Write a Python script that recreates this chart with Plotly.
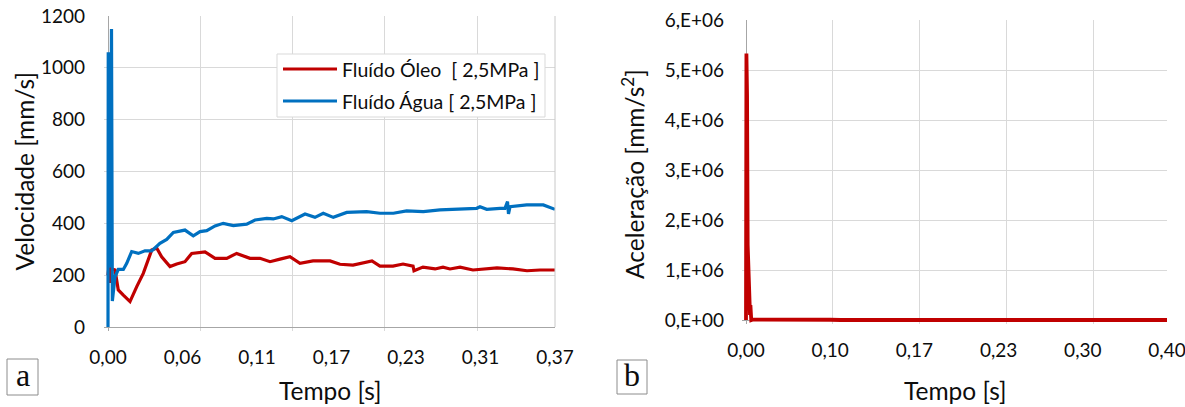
import numpy as np
import plotly.graph_objects as go

W, H = 1185, 407

# ---------------- data: chart a (velocity) ----------------
t_oleo = [0.0000, 0.0007, 0.0017, 0.0025, 0.0058, 0.0085, 0.0127, 0.0182, 0.0238, 0.0292,
          0.0362, 0.0403, 0.0444, 0.0513, 0.0569, 0.0637, 0.0693, 0.0803, 0.0886, 0.0983,
          0.1065, 0.1175, 0.1258, 0.1341, 0.1424, 0.1506, 0.1589, 0.1697, 0.1838, 0.1920,
          0.2028, 0.2185, 0.2251, 0.2359, 0.2442, 0.2525, 0.2533, 0.2607, 0.2707, 0.2773,
          0.2831, 0.2914, 0.3021, 0.3137, 0.3220, 0.3352, 0.3468, 0.3576, 0.3700]
v_oleo = [200, 230, 170, 225, 220, 143, 123, 98, 156, 207,
          297, 305, 271, 233, 243, 252, 284, 290, 265, 265,
          284, 265, 265, 252, 262, 271, 246, 255, 255, 242,
          239, 255, 235, 235, 243, 235, 217, 231, 224, 231,
          224, 231, 220, 224, 228, 224, 217, 220, 220]

t_agua = [0.0000, 0.0002, 0.0012, 0.0021, 0.0029, 0.0036, 0.0058, 0.0085, 0.0127, 0.0155,
          0.0196, 0.0251, 0.0306, 0.0362, 0.0430, 0.0486, 0.0541, 0.0637, 0.0706, 0.0762,
          0.0817, 0.0886, 0.0954, 0.1037, 0.1148, 0.1217, 0.1314, 0.1368, 0.1438, 0.1521,
          0.1631, 0.1713, 0.1782, 0.1865, 0.1976, 0.2141, 0.2251, 0.2362, 0.2472, 0.2610,
          0.2748, 0.2914, 0.3052, 0.3079, 0.3135, 0.3245, 0.3286, 0.3307, 0.3315, 0.3328,
          0.3466, 0.3603, 0.3700]
v_agua = [0, 1060, 820, 230, 1150, 100, 194, 222, 222, 246,
          291, 284, 294, 294, 323, 338, 365, 374, 352, 368,
          372, 390, 400, 391, 397, 413, 419, 417, 426, 410,
          436, 423, 439, 423, 442, 445, 439, 439, 448, 445,
          452, 454, 458, 464, 454, 458, 458, 484, 436, 464,
          471, 471, 454]

xlabels_a = ["0,00", "0,06", "0,11", "0,17", "0,23", "0,31", "0,37"]
yticks_a = [0, 200, 400, 600, 800, 1000, 1200]

# ---------------- data: chart b (acceleration) ----------------
t_acel = [0.0000, 0.0004, 0.0010, 0.0016, 0.0024, 0.0030, 0.0034, 0.0038, 0.0042, 0.0050,
          0.0060, 0.0200, 0.0400, 0.0600, 0.0800, 0.0900, 0.2000, 0.3000, 0.4000]
a_acel = [0, 5.33e6, 4.5e6, 1.5e6, 7.3e5, 4.0e5, 6.0e5, 1.0e5, 3.0e5, 0,
          8.0e3, 1.0e4, 5.0e3, 1.0e4, 5.0e3, 0, 0, 0, 0]

xlabels_b = ["0,00", "0,10", "0,17", "0,23", "0,30", "0,40"]
yticks_b = [0, 1e6, 2e6, 3e6, 4e6, 5e6, 6e6]
ylabels_b = ["0,E+00", "1,E+06", "2,E+06", "3,E+06", "4,E+06", "5,E+06", "6,E+06"]

series_names = ["Fluído Óleo\u00a0 [ 2,5MPa ]", "Fluído Água [ 2,5MPa ]"]
series_colors = ["#C00000", "#0070C0"]

FONT = "Lato"
TXT = "#0d0d0d"
GRID = "#D9D9D9"
AXIS = "#A6A6A6"


def px(x):
    return x / W


def py(y):
    return 1 - y / H


# plot area pixel boxes (axis origin position)
A_L, A_R, A_T, A_B = 108, 555, 16, 327
B_L, B_R, B_T, B_B = 746, 1167, 20, 320
PAD = 4
xmax_a, ymax_a = 0.37, 1200
xmax_b, ymax_b = 0.40, 6e6
kx_a = xmax_a / (A_R - A_L)
ky_a = ymax_a / (A_B - A_T)
kx_b = xmax_b / (B_R - B_L)
ky_b = ymax_b / (B_B - B_T)

fig = go.Figure()
fig.add_trace(go.Scatter(x=t_oleo, y=v_oleo, mode="lines", name=series_names[0],
                         line=dict(color=series_colors[0], width=3.2), showlegend=False,
                         xaxis="x", yaxis="y"))
fig.add_trace(go.Scatter(x=t_agua, y=v_agua, mode="lines", name=series_names[1],
                         line=dict(color=series_colors[1], width=3.2), showlegend=False,
                         xaxis="x", yaxis="y"))
fig.add_trace(go.Scatter(x=t_acel, y=a_acel, mode="lines", name="Aceleração",
                         line=dict(color=series_colors[0], width=3.8), showlegend=False,
                         xaxis="x2", yaxis="y2"))

grid_frac = 0.2064
gx_a = [xmax_a * grid_frac * k for k in range(1, 5)]
gx_b = [xmax_b * grid_frac * k for k in range(1, 5)]
tx_a = list(np.linspace(0, xmax_a, len(xlabels_a)))
tx_b = list(np.linspace(0, xmax_b, len(xlabels_b)))

tickfont = dict(family=FONT, size=19, color=TXT)

common = dict(zeroline=True, zerolinecolor=AXIS, zerolinewidth=1, showline=False,
              ticks="", tickfont=tickfont, automargin=False, fixedrange=True,
              ticklabeloverflow="allow")

fig.update_layout(
    width=W, height=H, margin=dict(l=0, r=0, t=0, b=0, autoexpand=False),
    paper_bgcolor="white", plot_bgcolor="white",
    font=dict(family=FONT, color=TXT),
    xaxis=dict(domain=[px(A_L - PAD), px(A_R)], range=[-PAD * kx_a, xmax_a + 1e-9],
               tickmode="array", tickvals=tx_a, ticktext=xlabels_a, showgrid=False,
               ticklabelstandoff=13,
               minor=dict(tickmode="array", tickvals=gx_a, showgrid=True, gridcolor=GRID, gridwidth=1, ticks=""),
               anchor="y", **common),
    yaxis=dict(domain=[py(A_B + PAD), py(A_T)], range=[-PAD * ky_a, ymax_a + 0.01],
               tickmode="array", tickvals=yticks_a, showgrid=True, gridcolor=GRID, gridwidth=1,
               ticklabelstandoff=18, anchor="x", **common),
    xaxis2=dict(domain=[px(B_L - PAD), px(B_R)], range=[-PAD * kx_b, xmax_b + 1e-9],
                tickmode="array", tickvals=tx_b, ticktext=xlabels_b, showgrid=False,
                ticklabelstandoff=13,
                minor=dict(tickmode="array", tickvals=gx_b, showgrid=True, gridcolor=GRID, gridwidth=1, ticks=""),
                anchor="y2", **common),
    yaxis2=dict(domain=[py(B_B + PAD), py(B_T)], range=[-PAD * ky_b, ymax_b + 1],
                tickmode="array", tickvals=yticks_b, ticktext=ylabels_b, showgrid=True,
                gridcolor=GRID, gridwidth=1,
                ticklabelstandoff=17, anchor="x2", **common),
)

shapes = []
annotations = []

# right border of chart a
shapes.append(dict(type="line", xref="paper", yref="paper", x0=px(A_R), x1=px(A_R),
                   y0=py(A_B), y1=py(A_T), line=dict(color="#C8C8C8", width=1)))

# legend (chart a)
LG_L, LG_R, LG_T, LG_B = 277, 545, 54, 117
shapes.append(dict(type="rect", xref="paper", yref="paper", x0=px(LG_L), x1=px(LG_R),
                   y0=py(LG_B), y1=py(LG_T), line=dict(color="#D9D9D9", width=1),
                   fillcolor="white", layer="above"))
for i, (nm, col) in enumerate(zip(series_names, series_colors)):
    yy = 69 + 32 * i
    shapes.append(dict(type="line", xref="paper", yref="paper", x0=px(283), x1=px(337),
                       y0=py(yy), y1=py(yy), line=dict(color=col, width=3.2), layer="above"))
    annotations.append(dict(text=nm, xref="paper", yref="paper", x=px(340), y=py(yy),
                            xanchor="left", yanchor="middle", showarrow=False,
                            font=dict(family=FONT, size=19.5, color=TXT)))

# axis titles
title_font = dict(family=FONT, size=24.5, color=TXT)
annotations.append(dict(text="Velocidade [mm/s]", xref="paper", yref="paper",
                        x=px(24), y=py((A_T + A_B) / 2), textangle=-90, showarrow=False,
                        xanchor="center", yanchor="middle", font=title_font))
annotations.append(dict(text="Tempo [s]", xref="paper", yref="paper",
                        x=px(330), y=py(390), showarrow=False,
                        xanchor="center", yanchor="middle", font=title_font))
annotations.append(dict(text="Aceleração [mm/s<sup>2</sup>]", xref="paper", yref="paper",
                        x=px(633), y=py(174), textangle=-90, showarrow=False,
                        xanchor="center", yanchor="middle", font=title_font))
annotations.append(dict(text="Tempo [s]", xref="paper", yref="paper",
                        x=px(955), y=py(390), showarrow=False,
                        xanchor="center", yanchor="middle", font=title_font))

# panel letters
for letter, (l, t, r, b) in [("a", (7, 359, 38, 395)), ("b", (617, 360, 647, 394))]:
    shapes.append(dict(type="rect", xref="paper", yref="paper", x0=px(l), x1=px(r),
                       y0=py(b), y1=py(t), line=dict(color="#8C8C8C", width=1)))
    annotations.append(dict(text=letter, xref="paper", yref="paper",
                            x=px((l + r) / 2), y=py((t + b) / 2 - 2), showarrow=False,
                            xanchor="center", yanchor="middle",
                            font=dict(family="Liberation Serif", size=32, color=TXT)))

fig.update_layout(shapes=shapes, annotations=annotations)
fig.write_html("out.html")
